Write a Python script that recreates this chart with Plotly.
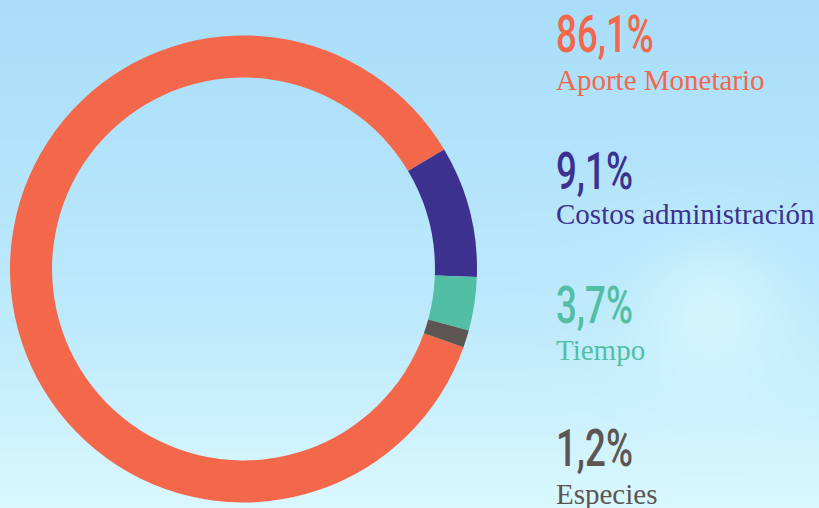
import numpy as np
import plotly.graph_objects as go

# ---- data ----
categories = ["Aporte Monetario", "Costos administración", "Tiempo", "Especies"]
values = [86.1, 9.1, 3.7, 1.2]
colors = ["#F3674A", "#3D3190", "#52BFA5", "#5D5552"]

W, H = 819, 508

fig = go.Figure()

# background gradient (decoration)
ny = 60
ys = np.linspace(0, 1, ny)
xs = np.linspace(0, 1, 40)
X, Y = np.meshgrid(xs, ys)
base = 1 - Y  # 0 at top, 1 at bottom
glow = 0.3 * np.exp(-(((X - 0.87) / 0.10) ** 2 + ((Y - 0.42) / 0.16) ** 2))
Z = np.clip(base + glow, 0, 1.3)
fig.add_trace(go.Heatmap(
    x=xs, y=ys, z=Z, zsmooth="best", showscale=False, hoverinfo="skip",
    zmin=0, zmax=1.3,
    colorscale=[[0, "#A9DDF9"], [0.5, "#BEEAFB"], [0.77, "#DAF8FE"], [1, "#EEFCFF"]],
))

fig.add_trace(go.Pie(
    labels=categories, values=values, hole=0.82, sort=False,
    direction="clockwise", rotation=109.6,
    marker=dict(colors=colors, line=dict(width=0)),
    textinfo="none", hoverinfo="label+percent", showlegend=False,
    domain=dict(x=[10 / W, 477 / W], y=[1 - 503 / H, 1 - 35 / H]),
))

pct_centers = [35, 171, 305, 448]
lab_centers = [80, 214, 350, 494]
x_left = 554 / W
annotations = []
for cat, v, c, pc, lc in zip(categories, values, colors, pct_centers, lab_centers):
    annotations.append(dict(
        x=x_left, y=1 - pc / H, xref="paper", yref="paper", xanchor="left", yanchor="middle",
        text=f"{v:.1f}%".replace(".", ","), showarrow=False,
        font=dict(family="Roboto, sans-serif", size=51, color=c, weight=500),
    ))
    annotations.append(dict(
        x=x_left, y=1 - lc / H, xref="paper", yref="paper", xanchor="left", yanchor="middle",
        text=cat, showarrow=False,
        font=dict(family="Liberation Serif, Times New Roman, serif", size=29, color=c),
    ))

fig.update_layout(
    width=W, height=H, margin=dict(l=0, r=0, t=0, b=0),
    paper_bgcolor="#C0EAFB", plot_bgcolor="rgba(0,0,0,0)",
    xaxis=dict(visible=False, range=[0, 1], domain=[0, 1], fixedrange=True),
    yaxis=dict(visible=False, range=[0, 1], domain=[0, 1], fixedrange=True),
    annotations=annotations,
)

post = """
document.body.style.margin='0';
var gd = document.getElementById('{plot_id}');
gd.querySelectorAll('text.annotation-text').forEach(function(t){
  if (t.textContent.indexOf('%') >= 0) {
    t.style.transformBox = 'fill-box';
    t.style.transformOrigin = '0% 50%';
    t.style.transform = 'scaleX(0.72)';
  }
});
"""

fig.write_html("out.html", post_script=post, config={"displayModeBar": False})
